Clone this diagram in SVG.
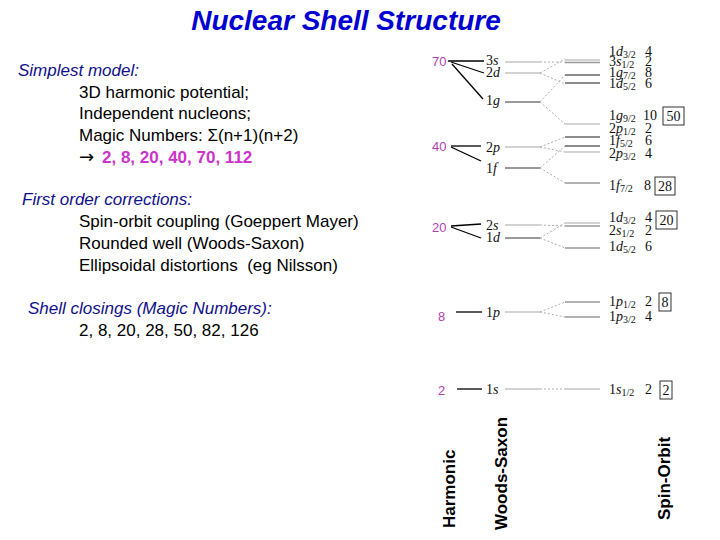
<svg xmlns="http://www.w3.org/2000/svg" width="720" height="540" viewBox="0 0 720 540">
<style>
.t{font-family:"Liberation Sans",Arial,"DejaVu Sans",sans-serif;font-size:17px;fill:#000}
.hd{font-style:italic;fill:#10108c}
.mag{font-weight:bold;fill:#cc33cc}
.arr{font-family:"DejaVu Sans",sans-serif;font-size:18px}
.title{font-family:"Liberation Sans",Arial,sans-serif;font-size:28px;font-weight:bold;font-style:italic;fill:#0000d0}
.mn{font-family:"Liberation Sans",Arial,sans-serif;font-size:13px;fill:#b040b0}
.lv{font-family:"Liberation Serif","Times New Roman",serif;font-size:14px;fill:#111}
.so{font-family:"Liberation Serif","Times New Roman",serif;font-size:14px;fill:#111}
.it{font-style:italic}
.sb{font-size:10px}
.rot{font-family:"Liberation Sans",Arial,sans-serif;font-size:17px;font-weight:bold;fill:#000}
.box{fill:#fff;stroke:#333;stroke-width:1}
.bn{font-family:"Liberation Serif","Times New Roman",serif;font-size:14px;fill:#111;text-anchor:middle}
.blk{stroke:#000;stroke-width:1.3;fill:none}
.dash{stroke:#999;stroke-width:0.8;stroke-dasharray:2,2;fill:none}
.wl{stroke:#c4c4c4;stroke-width:1.3}
.wd{stroke:#777;stroke-width:1.3}
.sl{stroke:#c4c4c4;stroke-width:1.3}
.sm{stroke:#999;stroke-width:1.3}
.sd{stroke:#666;stroke-width:1.3}
</style>

<g id="title"><text class="title" x="346" y="30" text-anchor="middle">Nuclear Shell Structure</text></g>

<g id="simplest-model">
<text class="t hd" x="18" y="76">Simplest model:</text>
<text class="t" x="79" y="98">3D harmonic potential;</text>
<text class="t" x="79" y="119">Independent nucleons;</text>
<text class="t" x="79" y="141">Magic Numbers: Σ(n+1)(n+2)</text>
<text class="t" x="79" y="163"><tspan class="arr">→</tspan> <tspan class="mag" x="102">2, 8, 20, 40, 70, 112</tspan></text>
</g>

<g id="first-order">
<text class="t hd" x="22" y="205">First order corrections:</text>
<text class="t" x="79" y="227">Spin-orbit coupling (Goeppert Mayer)</text>
<text class="t" x="79" y="249">Rounded well (Woods-Saxon)</text>
<text class="t" x="79" y="271" xml:space="preserve">Ellipsoidal distortions  (eg Nilsson)</text>
</g>

<g id="shell-closings">
<text class="t hd" x="28" y="314">Shell closings (Magic Numbers):</text>
<text class="t" x="79" y="336">2, 8, 20, 28, 50, 82, 126</text>
</g>

<g id="harmonic-numbers">
<text class="mn" x="432" y="66">70</text>
<text class="mn" x="432" y="151">40</text>
<text class="mn" x="432" y="232">20</text>
<text class="mn" x="438" y="321">8</text>
<text class="mn" x="438" y="395">2</text>
</g>

<g id="woods-saxon">
<text class="lv" x="486" y="65">3<tspan class="it">s</tspan></text>
<text class="lv" x="486" y="77">2<tspan class="it">d</tspan></text>
<text class="lv" x="486" y="105">1<tspan class="it">g</tspan></text>
<text class="lv" x="486" y="152">2<tspan class="it">p</tspan></text>
<text class="lv" x="486" y="173">1<tspan class="it">f</tspan></text>
<text class="lv" x="486" y="230">2<tspan class="it">s</tspan></text>
<text class="lv" x="486" y="242">1<tspan class="it">d</tspan></text>
<text class="lv" x="486" y="317">1<tspan class="it">p</tspan></text>
<text class="lv" x="486" y="394">1<tspan class="it">s</tspan></text>
<line class="wl" x1="505" y1="62" x2="540" y2="62"/>
<line class="wl" x1="505" y1="73" x2="540" y2="73"/>
<line class="wd" x1="505" y1="102" x2="540" y2="102"/>
<line class="wl" x1="505" y1="147" x2="540" y2="147"/>
<line class="wd" x1="505" y1="168" x2="540" y2="168"/>
<line class="wl" x1="505" y1="225" x2="540" y2="225"/>
<line class="wd" x1="505" y1="238" x2="540" y2="238"/>
<line class="wl" x1="505" y1="312" x2="540" y2="312"/>
<line class="wl" x1="505" y1="389" x2="540" y2="389"/>
</g>

<g id="spin-orbit">
<line class="sl" x1="565" y1="60" x2="600" y2="60"/>
<line class="sm" x1="565" y1="62.5" x2="600" y2="62.5"/>
<line class="sd" x1="565" y1="75" x2="600" y2="75"/>
<line class="sd" x1="565" y1="83" x2="600" y2="83"/>
<line class="sl" x1="565" y1="124" x2="600" y2="124"/>
<line class="sd" x1="565" y1="137" x2="600" y2="137"/>
<line class="sd" x1="565" y1="146" x2="600" y2="146"/>
<line class="sl" x1="565" y1="152" x2="600" y2="152"/>
<line class="sm" x1="565" y1="183" x2="600" y2="183"/>
<line class="sl" x1="565" y1="223" x2="600" y2="223"/>
<line class="sm" x1="565" y1="226" x2="600" y2="226"/>
<line class="sm" x1="565" y1="248" x2="600" y2="248"/>
<line class="sm" x1="565" y1="302" x2="600" y2="302"/>
<line class="sm" x1="565" y1="317" x2="600" y2="317"/>
<line class="sl" x1="565" y1="389" x2="600" y2="389"/>

<text class="so" x="609" y="56">1<tspan class="it">d</tspan><tspan class="sb" dy="2">3/2</tspan><tspan x="645" dy="-2">4</tspan></text>
<text class="so" x="609" y="66">3<tspan class="it">s</tspan><tspan class="sb" dy="2">1/2</tspan><tspan x="645" dy="-2">2</tspan></text>
<text class="so" x="609" y="77">1<tspan class="it">g</tspan><tspan class="sb" dy="2">7/2</tspan><tspan x="645" dy="-2">8</tspan></text>
<text class="so" x="609" y="88">1<tspan class="it">d</tspan><tspan class="sb" dy="2">5/2</tspan><tspan x="645" dy="-2">6</tspan></text>
<text class="so" x="609" y="120">1<tspan class="it">g</tspan><tspan class="sb" dy="2">9/2</tspan><tspan x="643" dy="-2">10</tspan></text>
<text class="so" x="609" y="133">2<tspan class="it">p</tspan><tspan class="sb" dy="2">1/2</tspan><tspan x="645" dy="-2">2</tspan></text>
<text class="so" x="609" y="145">1<tspan class="it">f</tspan><tspan class="sb" dy="2">5/2</tspan><tspan x="645" dy="-2">6</tspan></text>
<text class="so" x="609" y="158">2<tspan class="it">p</tspan><tspan class="sb" dy="2">3/2</tspan><tspan x="645" dy="-2">4</tspan></text>
<text class="so" x="609" y="190">1<tspan class="it">f</tspan><tspan class="sb" dy="2">7/2</tspan><tspan x="644" dy="-2">8</tspan></text>
<text class="so" x="609" y="222">1<tspan class="it">d</tspan><tspan class="sb" dy="2">3/2</tspan><tspan x="645" dy="-2">4</tspan></text>
<text class="so" x="609" y="235">2<tspan class="it">s</tspan><tspan class="sb" dy="2">1/2</tspan><tspan x="645" dy="-2">2</tspan></text>
<text class="so" x="609" y="251">1<tspan class="it">d</tspan><tspan class="sb" dy="2">5/2</tspan><tspan x="645" dy="-2">6</tspan></text>
<text class="so" x="609" y="306">1<tspan class="it">p</tspan><tspan class="sb" dy="2">1/2</tspan><tspan x="645" dy="-2">2</tspan></text>
<text class="so" x="609" y="321">1<tspan class="it">p</tspan><tspan class="sb" dy="2">3/2</tspan><tspan x="645" dy="-2">4</tspan></text>
<text class="so" x="609" y="394">1<tspan class="it">s</tspan><tspan class="sb" dy="2">1/2</tspan><tspan x="645" dy="-2">2</tspan></text>
</g>

<g id="closures">
<rect class="box" x="663" y="107" width="21" height="18"/><text class="bn" x="673.5" y="121">50</text>
<rect class="box" x="655" y="177" width="20" height="18"/><text class="bn" x="665" y="191">28</text>
<rect class="box" x="656" y="211" width="21" height="18"/><text class="bn" x="666.5" y="225">20</text>
<rect class="box" x="659" y="293" width="12" height="18"/><text class="bn" x="665" y="307">8</text>
<rect class="box" x="660" y="381" width="12" height="18"/><text class="bn" x="666" y="395">2</text>
</g>

<g id="column-labels">
<text class="rot" transform="translate(455,528) rotate(-90)">Harmonic</text>
<text class="rot" transform="translate(507,530) rotate(-90)">Woods-Saxon</text>
<text class="rot" transform="translate(670,520) rotate(-90)">Spin-Orbit</text>
</g>

<g id="connectors">
<line class="blk" x1="448" y1="61" x2="484" y2="61"/>
<line class="blk" x1="451" y1="62" x2="484" y2="73"/>
<line class="blk" x1="452" y1="64" x2="483" y2="99"/>
<line class="blk" x1="451" y1="146" x2="481" y2="146"/>
<line class="blk" x1="451" y1="147" x2="481" y2="161"/>
<line class="blk" x1="451" y1="226" x2="481" y2="224"/>
<line class="blk" x1="451" y1="227" x2="481" y2="238"/>
<line class="blk" x1="456" y1="312" x2="482" y2="312"/>
<line class="blk" x1="457" y1="389" x2="482" y2="389"/>

<path class="dash" d="M540 62 L565 62"/>
<path class="dash" d="M540 73 L565 59 M540 73 L565 84"/>
<path class="dash" d="M540 102 L565 75 M540 102 L565 124"/>
<path class="dash" d="M540 147 L565 137 M540 147 L565 152"/>
<path class="dash" d="M540 168 L565 146 M540 168 L565 183"/>
<path class="dash" d="M540 225 L565 226"/>
<path class="dash" d="M540 238 L565 223 M540 238 L565 248"/>
<path class="dash" d="M540 312 L565 302 M540 312 L565 317"/>
<path class="dash" d="M540 389 L565 389"/>
</g>
</svg>
